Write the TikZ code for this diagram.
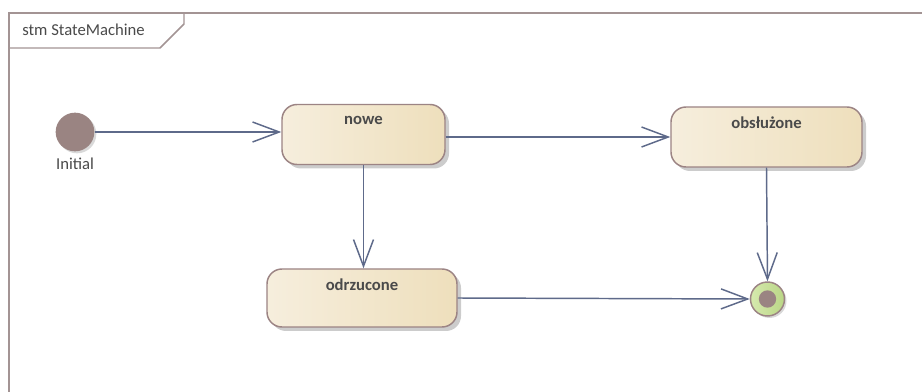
\documentclass[tikz,border=0pt]{standalone}
\usepackage{fontspec}
\setmainfont{Carlito}
\usetikzlibrary{arrows.meta,shadows}
\definecolor{edgeblue}{HTML}{5E6A8A}
\definecolor{framegray}{HTML}{A39494}
\definecolor{stateborder}{HTML}{9C8484}
\definecolor{stateleft}{HTML}{F6EEDD}
\definecolor{stateright}{HTML}{EEDFBC}
\definecolor{pseudofill}{HTML}{9A8482}
\definecolor{finalleft}{HTML}{D6E9AE}
\definecolor{finalright}{HTML}{BAD686}
\definecolor{textgray}{HTML}{4A4A4A}
\tikzset{
  x=0.75pt, y=-0.75pt,
  plaintext/.style={font=\fontsize{12.5}{14}\selectfont, text=textgray, inner sep=0pt},
  statebox/.style={rectangle, rounded corners=11.25pt, draw=stateborder, line width=1.1pt,
    left color=stateleft, right color=stateright,
    drop shadow={shadow xshift=3pt, shadow yshift=-3pt, fill=black, opacity=0.2}},
  statename/.style={anchor=center, font=\bfseries\fontsize{12.5}{14}\selectfont, text=textgray, inner sep=0pt},
  trans/.style={draw=edgeblue, line width=1.1pt,
    -{Straight Barb[length=20pt, width=15pt, line width=1.1pt]}},
}
\begin{document}
\begin{tikzpicture}
\useasboundingbox (0,0) rectangle (922,392);
\clip (0,0) rectangle (922,392);
\fill[white] (0,0) rectangle (922,392);

% diagram frame and its name tab
\draw[framegray, line width=1.8pt] (9,420) -- (9,13) -- (940,13);
\draw[framegray, line width=1.1pt] (9,48) -- (160,48) -- (184,24) -- (184,13);
\node[plaintext, anchor=west] (frametitle) at (22,30) {stm StateMachine};

% initial pseudostate
\node[circle, fill=pseudofill, minimum size=29pt, inner sep=0pt,
  drop shadow={shadow xshift=1.5pt, shadow yshift=-1.5pt, fill=black, opacity=0.15}] (init) at (75,132) {};
\node[plaintext] (initlabel) at (75,164) {Initial};

% states
\node[statebox, minimum width=122.25pt, minimum height=45pt] (nowe) at (363.5,134.5) {};
\node[statename] (nowe-t) at ([yshift=-12.5pt]nowe.north) {nowe};

\node[statebox, minimum width=143.25pt, minimum height=45pt] (obsl) at (766.5,137) {};
\node[statename] (obsl-t) at ([yshift=-12.5pt]obsl.north) {obsłużone};

\node[statebox, minimum width=142.5pt, minimum height=43.5pt] (odrz) at (362,298) {};
\node[statename] (odrz-t) at ([yshift=-12.5pt]odrz.north) {odrzucone};

% final state
\node[circle, draw=stateborder, line width=1.1pt, left color=finalleft, right color=finalright,
  minimum size=25.5pt, inner sep=0pt,
  drop shadow={shadow xshift=1.5pt, shadow yshift=-1.5pt, fill=black, opacity=0.15}] (final) at (767.5,299) {};
\node[circle, fill=pseudofill, minimum size=13pt, inner sep=0pt] (finaldot) at (final.center) {};

% transitions
\draw[trans] (init.east) -- (nowe.west |- init.east);
\draw[trans] (nowe.east |- 0,137) -- (obsl.west |- 0,137);
\draw[trans] (nowe.south) -- (odrz.north -| nowe.south);
\draw[trans] (obsl.south) -- (final.north);
\draw[trans] (odrz.east) -- (final.west);
\end{tikzpicture}
\end{document}
